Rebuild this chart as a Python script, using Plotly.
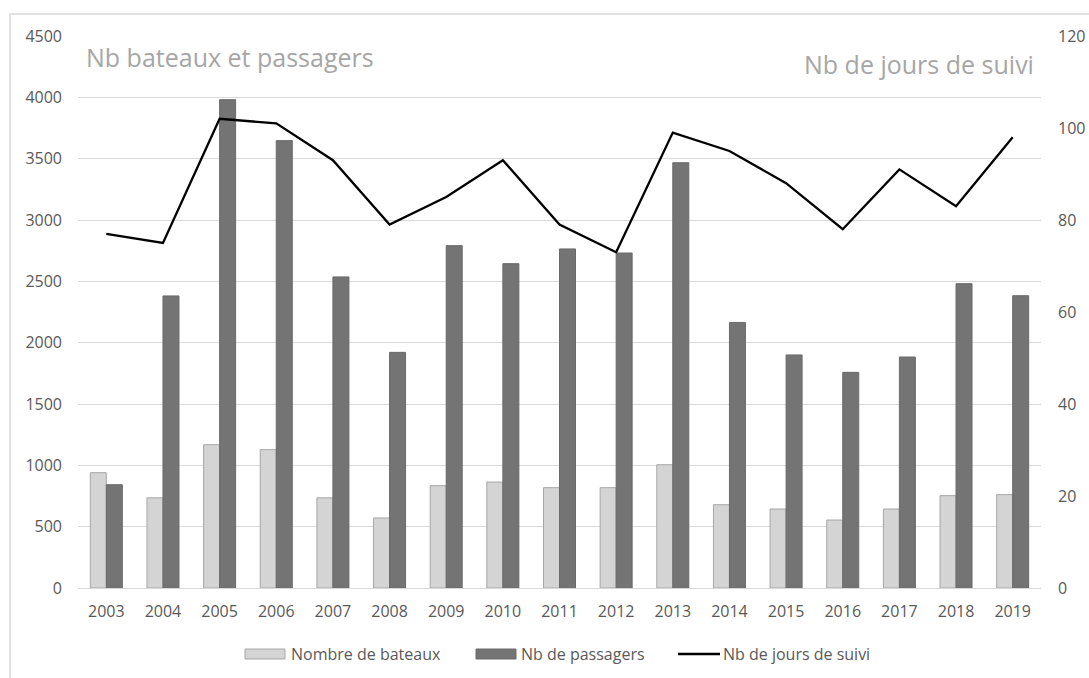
import plotly.graph_objects as go

years = [str(y) for y in range(2003, 2020)]
bateaux = [940, 735, 1168, 1128, 735, 571, 834, 864, 818, 818, 1005, 679, 644, 554, 644, 753, 761]
passagers = [842, 2381, 3981, 3647, 2536, 1921, 2791, 2644, 2764, 2731, 3467, 2165, 1900, 1758, 1883, 2481, 2383]
jours = [77, 75, 102, 101, 93, 79, 85, 93, 79, 73, 99, 95, 88, 78, 91, 83, 98]
series_names = ["Nombre de bateaux", "Nb de passagers", "Nb de jours de suivi"]

FONT = "Open Sans"
LIGHT, LIGHT_EDGE = "#d4d4d4", "#a6a6a6"
DARK, DARK_EDGE = "#747474", "#6a6a6a"
W, H = 1089, 678
# plot area in page pixels: x 78..1041, y 36..588
L, T = 78, 36
R = W - 1041
B = H - 588
pw, ph = W - L - R, H - T - B

def px2paper_x(px):
    return (px - L) / pw

def px2paper_y(py):
    return (H - B - py) / ph

fig = go.Figure()
fig.add_trace(go.Bar(x=years, y=bateaux, name=series_names[0], showlegend=False,
                     marker=dict(color=LIGHT, line=dict(color=LIGHT_EDGE, width=1))))
fig.add_trace(go.Bar(x=years, y=passagers, name=series_names[1], showlegend=False,
                     marker=dict(color=DARK, line=dict(color=DARK_EDGE, width=1))))
fig.add_trace(go.Scatter(x=years, y=jours, name=series_names[2], yaxis="y2", showlegend=False,
                         mode="lines", line=dict(color="#000000", width=2.3)))

TICKFONT = dict(size=16, color="#595959", family=FONT)

# custom legend (wide swatches like the original)
LEG_Y = 654
legend_items = [
    (245, 285, 289, series_names[0], "bar", LIGHT, LIGHT_EDGE),
    (476, 516, 519, series_names[1], "bar", DARK, DARK_EDGE),
    (678, 720, 721, series_names[2], "line", "#000000", "#000000"),
]
shapes = [
    dict(type="rect", xref="paper", yref="paper",
         x0=px2paper_x(10), x1=px2paper_x(1300), y0=px2paper_y(900), y1=px2paper_y(14),
         line=dict(color="#d9d9d9", width=1.5), fillcolor="rgba(0,0,0,0)", layer="below"),
]
annotations = [
    dict(text="Nb bateaux et passagers", x=px2paper_x(84), y=px2paper_y(57),
         xref="paper", yref="paper", xanchor="left", yanchor="middle", showarrow=False,
         font=dict(size=25, color="#a6a6a6", family=FONT)),
    dict(text="Nb de jours de suivi", x=px2paper_x(1036), y=px2paper_y(64),
         xref="paper", yref="paper", xanchor="right", yanchor="middle", showarrow=False,
         font=dict(size=25, color="#a6a6a6", family=FONT)),
]
for x0, x1, xt, name, kind, col, edge in legend_items:
    if kind == "bar":
        shapes.append(dict(type="rect", xref="paper", yref="paper",
                           x0=px2paper_x(x0), x1=px2paper_x(x1),
                           y0=px2paper_y(LEG_Y + 5), y1=px2paper_y(LEG_Y - 5),
                           line=dict(color=edge, width=1), fillcolor=col))
    else:
        shapes.append(dict(type="line", xref="paper", yref="paper",
                           x0=px2paper_x(x0), x1=px2paper_x(x1),
                           y0=px2paper_y(LEG_Y), y1=px2paper_y(LEG_Y),
                           line=dict(color=col, width=2.3)))
    annotations.append(dict(text=name, x=px2paper_x(xt), y=px2paper_y(LEG_Y),
                            xref="paper", yref="paper", xanchor="left", yanchor="middle",
                            showarrow=False, font=dict(size=16, color="#595959", family=FONT)))

fig.update_layout(
    width=W, height=H,
    margin=dict(l=L, r=R, t=T, b=B, autoexpand=False),
    paper_bgcolor="white", plot_bgcolor="white",
    barmode="group", bargap=0.435, bargroupgap=0,
    showlegend=False,
    font=dict(family=FONT, size=16, color="#595959"),
    xaxis=dict(showgrid=False, showline=True, linecolor="#d9d9d9", linewidth=1,
               ticks="", tickfont=TICKFONT, ticklabelstandoff=9, automargin=False),
    yaxis=dict(range=[0, 4500], dtick=500, showgrid=True, gridcolor="#d9d9d9", gridwidth=1,
               zeroline=False, showline=False, ticks="", tickfont=TICKFONT,
               ticklabelstandoff=15, automargin=False),
    yaxis2=dict(range=[0, 120], dtick=20, overlaying="y", side="right", showgrid=False,
                zeroline=False, showline=False, ticks="", tickfont=TICKFONT,
                ticklabelstandoff=16, automargin=False),
    annotations=annotations,
    shapes=shapes,
)

fig.write_html("out.html", config={"displayModeBar": False},
               post_script="document.body.style.margin='0px';document.body.style.overflow='hidden';")
